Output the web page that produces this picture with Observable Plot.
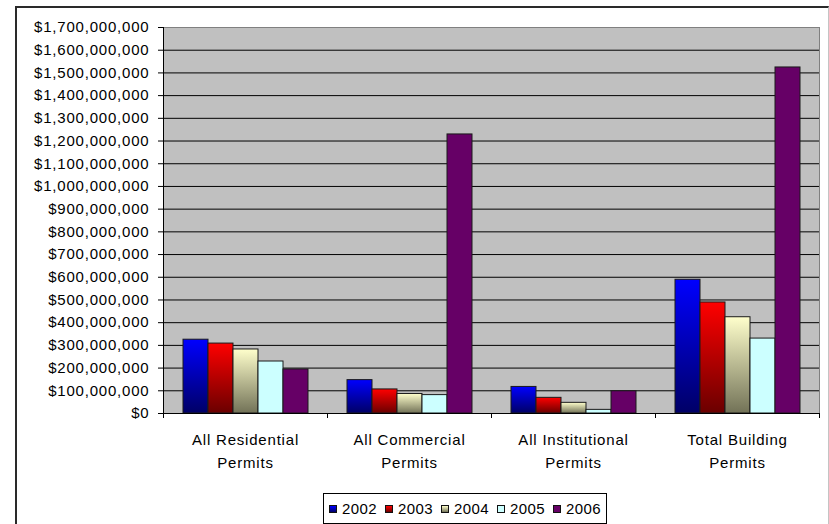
<!DOCTYPE html>
<html>
<head>
<meta charset="utf-8">
<script src="https://cdn.jsdelivr.net/npm/d3@7"></script>
<script src="https://cdn.jsdelivr.net/npm/@observablehq/plot@0.6"></script>
<style>
  html, body { margin: 0; padding: 0; background: #fff; overflow: hidden; }
  body { width: 829px; height: 524px; position: relative; font-family: "Liberation Sans", Arial, sans-serif; }
  #chart {
    position: absolute; left: 15px; top: 6px; width: 814px; height: 540px;
    box-sizing: border-box;
    border-left: 2px solid #2a2a2a; border-top: 2px solid #2a2a2a; border-right: 1px solid #c4c4c4;
  }
  #chart svg { display: block; }
  #legend {
    position: absolute; left: 306px; top: 485px; height: 29px;
    border: 1px solid #000; background: #fff;
    display: flex; align-items: center; padding: 0 5px;
    font-size: 15px; letter-spacing: 0.4px; color: #000;
  }
  #legend .item { display: flex; align-items: center; margin-right: 8px; }
  #legend .item:last-child { margin-right: 0; }
  #legend .swatch { width: 6px; height: 6px; border: 1px solid #111; margin-right: 5px; }
</style>
</head>
<body>
<div id="chart"></div>
<script>
// Building permit values by category and year (US dollars)
const categories = [
  "All Residential Permits",
  "All Commercial Permits",
  "All Institutional Permits",
  "Total Building Permits"
];
const categoryTickLabels = [
  "All Residential\nPermits",
  "All Commercial\nPermits",
  "All Institutional\nPermits",
  "Total Building\nPermits"
];
const years = ["2002", "2003", "2004", "2005", "2006"];

const values2002 = [325e6, 147e6, 117e6, 589e6];
const values2003 = [308e6, 106e6, 69e6, 489e6];
const values2004 = [282e6, 86e6, 47e6, 424e6];
const values2005 = [229e6, 81e6, 16e6, 330e6];
const values2006 = [194e6, 1229e6, 98e6, 1524e6];

const yTicks = d3.range(0, 1.7e9 + 1, 1e8);

// Bar fills: top and bottom gradient stops for each year
const fillTop = ["#0000ff", "#ff0000", "#ffffcc", "#ccffff", "#660066"];
const fillBottom = ["#000066", "#6a0000", "#727257", "#ccffff", "#660066"];

const seriesValues = [values2002, values2003, values2004, values2005, values2006];
const rows = [];
years.forEach((year, j) => {
  categories.forEach((category, i) => {
    rows.push({category, year, value: seriesValues[j][i]});
  });
});

const tickLabelOf = new Map(categories.map((c, i) => [c, categoryTickLabels[i]]));
const fillId = (year) => `bar-fill-${year}`;

// Small ticks below the baseline at the edges of each category group
const groupEdgeTicks = (index, scales, values, dims) => {
  const g = d3.create("svg:g").attr("stroke", "#000").attr("stroke-width", 1);
  const y0 = scales.y(0);
  for (const x of [dims.marginLeft, dims.width - dims.marginRight]) {
    g.append("line")
      .attr("x1", x + 0.5).attr("x2", x + 0.5)
      .attr("y1", y0).attr("y2", y0 + 5);
  }
  return g.node();
};

const plot = Plot.plot({
  width: 811,
  height: 474,
  marginLeft: 146,
  marginRight: 9,
  marginTop: 19,
  marginBottom: 69,
  style: {
    fontFamily: "'Liberation Sans', Arial, sans-serif",
    fontSize: "15px",
    letterSpacing: "0.8px",
    color: "#000",
    background: "transparent",
    overflow: "visible"
  },
  fx: {domain: categories, padding: 0, axis: null, label: null},
  x: {domain: years, paddingInner: 0, paddingOuter: 0.746, axis: null},
  y: {domain: [0, 1.7e9], axis: null},
  color: {type: "identity"},
  marks: [
    Plot.frame({facet: "super", fill: "#c0c0c0", stroke: "#808080"}),
    Plot.ruleY(yTicks.slice(1, -1), {stroke: "#000", strokeWidth: 1}),
    Plot.barY(rows, {
      fx: "category",
      x: "year",
      y: "value",
      fill: (d) => `url(#${fillId(d.year)})`,
      stroke: "#1a1a1a",
      strokeWidth: 1
    }),
    Plot.ruleY([0], {stroke: "#000"}),
    Plot.frame({facet: "super", anchor: "left", stroke: "#000"}),
    Plot.axisY({
      ticks: yTicks,
      tickFormat: d3.format("$,"),
      tickSize: 5,
      tickPadding: 9,
      fontSize: 15,
      label: null
    }),
    groupEdgeTicks,
    Plot.axisFx({
      anchor: "bottom",
      tickSize: 0,
      tickPadding: 15,
      lineHeight: 1.53,
      fontSize: 15,
      tickFormat: (d) => tickLabelOf.get(d),
      label: null
    })
  ]
});

// Vertical gradients used by the bars
const defs = d3.select(plot).insert("defs", ":first-child");
years.forEach((year, j) => {
  const grad = defs.append("linearGradient")
    .attr("id", fillId(year))
    .attr("x1", 0).attr("y1", 0).attr("x2", 0).attr("y2", 1);
  grad.append("stop").attr("offset", "0%").attr("stop-color", fillTop[j]);
  grad.append("stop").attr("offset", "100%").attr("stop-color", fillBottom[j]);
});

const chart = document.getElementById("chart");
chart.appendChild(plot);

// Legend
const legend = document.createElement("div");
legend.id = "legend";
years.forEach((year, j) => {
  const item = document.createElement("div");
  item.className = "item";
  const sw = document.createElement("span");
  sw.className = "swatch";
  sw.style.background = `linear-gradient(to bottom, ${fillTop[j]}, ${fillBottom[j]})`;
  const label = document.createElement("span");
  label.textContent = year;
  item.appendChild(sw);
  item.appendChild(label);
  legend.appendChild(item);
});
chart.appendChild(legend);
</script>
</body>
</html>
